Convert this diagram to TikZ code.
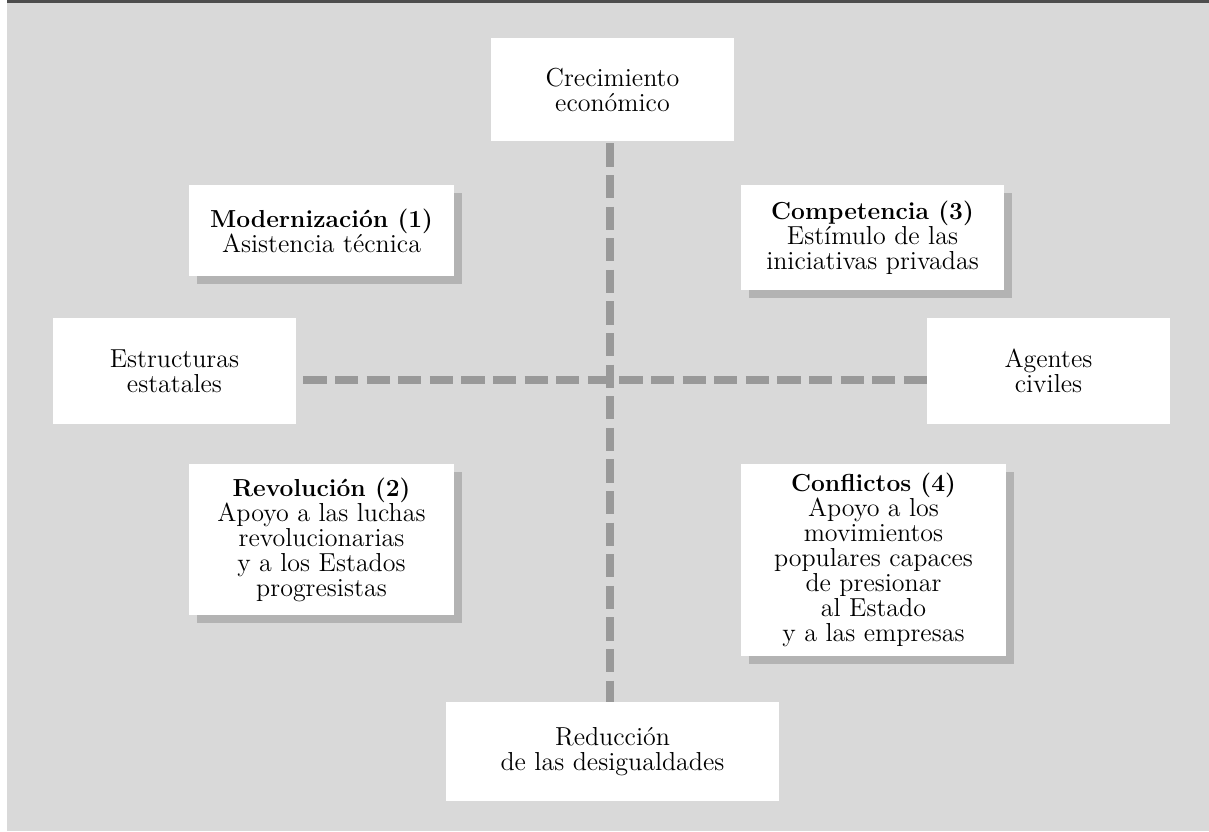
\documentclass[tikz,border=0pt]{standalone}
\usetikzlibrary{shadows}
\definecolor{bgc}{HTML}{D9D9D9}
\definecolor{topc}{HTML}{4D4D4D}
\definecolor{dashc}{HTML}{999999}
\definecolor{shadc}{HTML}{B3B3B3}
\begin{document}
\begin{tikzpicture}[x=0.5pt,y=-0.5pt,
  box/.style={fill=white,draw=none,inner sep=0pt,align=center,
    font=\fontsize{13pt}{12.5pt}\selectfont},
  shbox/.style={box,drop shadow={shadow xshift=4pt,shadow yshift=-4pt,fill=shadc,opacity=1}},
  axisline/.style={draw=dashc,line width=4pt,line cap=butt,dash pattern=on 11.6pt off 4.2pt}]
\newcommand{\hdtext}[1]{{\fontsize{12.3pt}{12.5pt}\selectfont\bfseries #1}}
\useasboundingbox (0,0) rectangle (1209,831);
\fill[bgc] (7,3) rectangle (1209,831);
\fill[topc] (7,0) rectangle (1209,3);
% boxes
\node[box,minimum width=121.5pt,minimum height=51.5pt] (crec) at (612.5,89.5) {Crecimiento\\econ\'omico};
\node[shbox,minimum width=132.5pt,minimum height=45.5pt] (mod) at (321.5,230.5) {\hdtext{Modernizaci\'on (1)}\\Asistencia t\'ecnica};
\node[shbox,minimum width=131.5pt,minimum height=52.5pt] (comp) at (872.5,237.5) {\hdtext{Competencia (3)}\\Est\'imulo de las\\iniciativas privadas};
\node[box,minimum width=121.5pt,minimum height=53pt] (estr) at (174.5,371) {Estructuras\\estatales};
\node[box,minimum width=121.5pt,minimum height=53pt] (agen) at (1048.5,371) {Agentes\\civiles};
\node[shbox,minimum width=132.5pt,minimum height=75.5pt] (rev) at (321.5,539.5) {\hdtext{Revoluci\'on (2)}\\Apoyo a las luchas\\revolucionarias\\y a los Estados\\progresistas};
\node[shbox,minimum width=132.5pt,minimum height=96pt] (conf) at (873.5,560) {\hdtext{Conflictos (4)}\\Apoyo a los\\movimientos\\populares capaces\\de presionar\\al Estado\\y a las empresas};
\node[box,minimum width=166.5pt,minimum height=49.5pt] (red) at (612.5,751.5) {Reducci\'on\\de las desigualdades};
% axes
\draw[axisline] ([shift={(-1.25pt,-1pt)}]crec.south) -- ([xshift=-1.25pt]red.north);
\draw[axisline] ([shift={(3.5pt,-4.5pt)}]estr.east) -- ([yshift=-4.5pt]agen.west);
\end{tikzpicture}
\end{document}
